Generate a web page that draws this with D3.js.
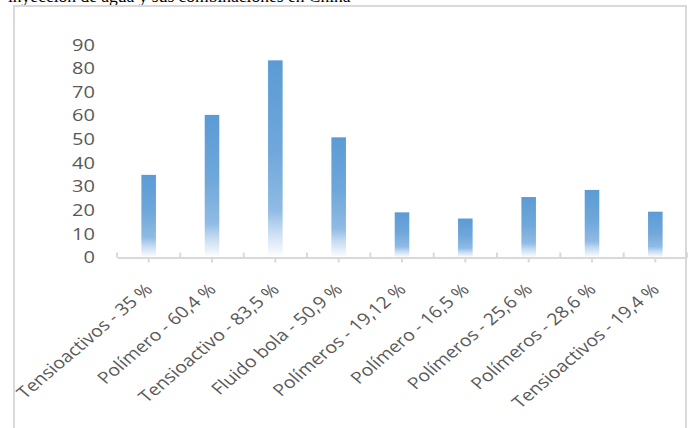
<!DOCTYPE html>
<html>
<head>
<meta charset="utf-8">
<script src="https://cdn.jsdelivr.net/npm/d3@7"></script>
<style>
  html, body { margin: 0; padding: 0; background: #ffffff; }
  svg { display: block; }
</style>
</head>
<body>
<svg id="chart" width="688" height="428"></svg>
<script>
// ---- data ----
const categories = [
  "Tensioactivos - 35 %",
  "Polímero - 60,4 %",
  "Tensioactivo - 83,5 %",
  "Fluido bola - 50,9 %",
  "Polímeros - 19,12 %",
  "Polímero - 16,5 %",
  "Polímeros  - 25,6 %",
  "Polímeros - 28,6 %",
  "Tensioactivos - 19,4 %"
];
const values = [35, 60.4, 83.5, 50.9, 19.12, 16.5, 25.6, 28.6, 19.4];
const yTicks = [0, 10, 20, 30, 40, 50, 60, 70, 80, 90];
const captionText = "inyección de agua y sus combinaciones en China";

// ---- layout ----
const plot = { left: 117, right: 687, top: 45, bottom: 257.5 };
const stretchX = 1.18;
const stretchY = 1.25;

const svg = d3.select("#chart");

// caption (cut off by top edge, as in the source)
svg.append("text")
  .attr("x", 8).attr("y", 1.5)
  .attr("font-family", "'Liberation Serif', 'Times New Roman', serif")
  .attr("font-size", 17.5)
  .attr("fill", "#000")
  .text(captionText);

// chart frame
svg.append("rect")
  .attr("x", 14).attr("y", 6)
  .attr("width", 672).attr("height", 440)
  .attr("fill", "none")
  .attr("stroke", "#d9d9d9")
  .attr("stroke-width", 2);

// scales
const pInner = 0.77;
const x = d3.scaleBand()
  .domain(categories)
  .range([plot.left, plot.right])
  .paddingInner(pInner)
  .paddingOuter(pInner / 2);

const y = d3.scaleLinear()
  .domain([0, 90])
  .range([plot.bottom, plot.top]);

// gradient
const defs = svg.append("defs");
const grad = defs.append("linearGradient")
  .attr("id", "barGrad")
  .attr("x1", 0).attr("y1", 0).attr("x2", 0).attr("y2", 1);
[
  [0, "#5b9bd5"],
  [0.45, "#6fa7da"],
  [0.76, "#8fbbe4"],
  [0.86, "#c3daf1"],
  [1, "#ffffff"]
].forEach(([o, c]) => grad.append("stop").attr("offset", o).attr("stop-color", c));

// bars
svg.append("g").selectAll("rect")
  .data(values)
  .join("rect")
  .attr("x", (d, i) => x(categories[i]))
  .attr("y", d => y(d))
  .attr("width", x.bandwidth())
  .attr("height", d => y(0) - y(d))
  .attr("fill", "url(#barGrad)");

// x axis
const xAxis = svg.append("g")
  .attr("transform", `translate(0,${plot.bottom})`)
  .call(d3.axisBottom(x).tickSize(5).tickSizeOuter(0).tickPadding(0));
xAxis.select(".domain").attr("stroke", "#d9d9d9").attr("stroke-width", 2);
xAxis.selectAll(".tick line").attr("stroke", "#d9d9d9").attr("stroke-width", 2);
xAxis.selectAll(".tick text")
  .attr("x", 0).attr("y", 0).attr("dy", 0)
  .attr("text-anchor", "end")
  .attr("transform", `translate(5,33) scale(${stretchX},1) rotate(-45)`)
  .attr("font-family", "'Open Sans', sans-serif")
  .attr("font-size", 16.5)
  .attr("fill", "#595959");

// boundary ticks (upward)
const step = x.step();
const bounds = categories.map(c => x(c) + x.bandwidth() / 2 - step / 2).concat([plot.right]);
xAxis.append("g").selectAll("line")
  .data(bounds)
  .join("line")
  .attr("x1", d => d).attr("x2", d => d)
  .attr("y1", 0).attr("y2", -5)
  .attr("stroke", "#d9d9d9").attr("stroke-width", 2);

// y axis labels
const yAxis = svg.append("g")
  .attr("transform", `translate(${plot.left},0)`)
  .call(d3.axisLeft(y).tickValues(yTicks).tickSize(0).tickFormat(d3.format("d")));
yAxis.select(".domain").remove();
yAxis.selectAll(".tick text")
  .attr("x", 0)
  .attr("transform", `translate(-22,0) scale(${stretchY},1)`)
  .attr("text-anchor", "end")
  .attr("font-family", "'Open Sans', sans-serif")
  .attr("font-size", 16)
  .attr("fill", "#595959");
</script>
</body>
</html>
